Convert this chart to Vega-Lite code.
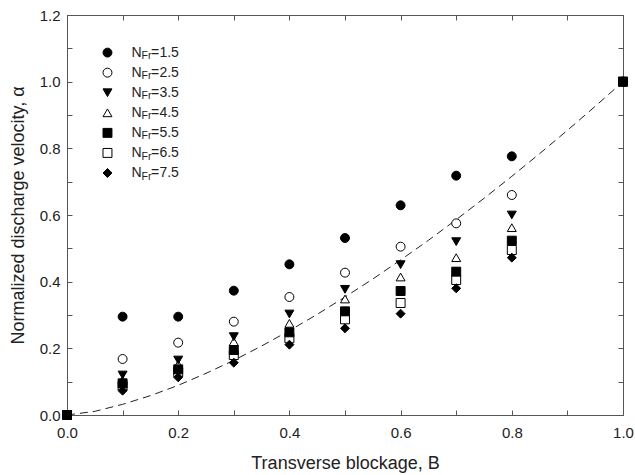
{
  "$schema": "https://vega.github.io/schema/vega-lite/v6.json",
  "width": 556,
  "height": 400,
  "autosize": {"type": "none"},
  "padding": {"left": 67, "top": 15, "right": 12, "bottom": 60},
  "background": "white",
  "config": {
    "view": {"stroke": "#555", "strokeWidth": 1},
    "font": "Liberation Sans",
    "axis": {
      "domainColor": "#555",
      "tickColor": "#555",
      "labelColor": "#222",
      "titleColor": "#222",
      "labelFontSize": 15,
      "titleFontSize": 18,
      "titleFontWeight": "normal",
      "grid": false,
      "labelFlush": false
    }
  },
  "datasets": {
    "points": [
      {"B": 0, "alpha": 0, "NFr": "1.5"},
      {"B": 0, "alpha": 0, "NFr": "2.5"},
      {"B": 0, "alpha": 0, "NFr": "3.5"},
      {"B": 0, "alpha": 0, "NFr": "4.5"},
      {"B": 0, "alpha": 0, "NFr": "5.5"},
      {"B": 0, "alpha": 0, "NFr": "6.5"},
      {"B": 0, "alpha": 0, "NFr": "7.5"},
      {"B": 0.1, "alpha": 0.295, "NFr": "1.5"},
      {"B": 0.1, "alpha": 0.168, "NFr": "2.5"},
      {"B": 0.1, "alpha": 0.12, "NFr": "3.5"},
      {"B": 0.1, "alpha": 0.105, "NFr": "4.5"},
      {"B": 0.1, "alpha": 0.095, "NFr": "5.5"},
      {"B": 0.1, "alpha": 0.088, "NFr": "6.5"},
      {"B": 0.1, "alpha": 0.073, "NFr": "7.5"},
      {"B": 0.2, "alpha": 0.295, "NFr": "1.5"},
      {"B": 0.2, "alpha": 0.217, "NFr": "2.5"},
      {"B": 0.2, "alpha": 0.165, "NFr": "3.5"},
      {"B": 0.2, "alpha": 0.152, "NFr": "4.5"},
      {"B": 0.2, "alpha": 0.137, "NFr": "5.5"},
      {"B": 0.2, "alpha": 0.128, "NFr": "6.5"},
      {"B": 0.2, "alpha": 0.113, "NFr": "7.5"},
      {"B": 0.3, "alpha": 0.373, "NFr": "1.5"},
      {"B": 0.3, "alpha": 0.28, "NFr": "2.5"},
      {"B": 0.3, "alpha": 0.235, "NFr": "3.5"},
      {"B": 0.3, "alpha": 0.22, "NFr": "4.5"},
      {"B": 0.3, "alpha": 0.195, "NFr": "5.5"},
      {"B": 0.3, "alpha": 0.18, "NFr": "6.5"},
      {"B": 0.3, "alpha": 0.157, "NFr": "7.5"},
      {"B": 0.4, "alpha": 0.452, "NFr": "1.5"},
      {"B": 0.4, "alpha": 0.354, "NFr": "2.5"},
      {"B": 0.4, "alpha": 0.303, "NFr": "3.5"},
      {"B": 0.4, "alpha": 0.275, "NFr": "4.5"},
      {"B": 0.4, "alpha": 0.248, "NFr": "5.5"},
      {"B": 0.4, "alpha": 0.23, "NFr": "6.5"},
      {"B": 0.4, "alpha": 0.211, "NFr": "7.5"},
      {"B": 0.5, "alpha": 0.531, "NFr": "1.5"},
      {"B": 0.5, "alpha": 0.427, "NFr": "2.5"},
      {"B": 0.5, "alpha": 0.377, "NFr": "3.5"},
      {"B": 0.5, "alpha": 0.348, "NFr": "4.5"},
      {"B": 0.5, "alpha": 0.311, "NFr": "5.5"},
      {"B": 0.5, "alpha": 0.287, "NFr": "6.5"},
      {"B": 0.5, "alpha": 0.26, "NFr": "7.5"},
      {"B": 0.6, "alpha": 0.629, "NFr": "1.5"},
      {"B": 0.6, "alpha": 0.505, "NFr": "2.5"},
      {"B": 0.6, "alpha": 0.451, "NFr": "3.5"},
      {"B": 0.6, "alpha": 0.414, "NFr": "4.5"},
      {"B": 0.6, "alpha": 0.372, "NFr": "5.5"},
      {"B": 0.6, "alpha": 0.336, "NFr": "6.5"},
      {"B": 0.6, "alpha": 0.304, "NFr": "7.5"},
      {"B": 0.7, "alpha": 0.718, "NFr": "1.5"},
      {"B": 0.7, "alpha": 0.575, "NFr": "2.5"},
      {"B": 0.7, "alpha": 0.52, "NFr": "3.5"},
      {"B": 0.7, "alpha": 0.472, "NFr": "4.5"},
      {"B": 0.7, "alpha": 0.43, "NFr": "5.5"},
      {"B": 0.7, "alpha": 0.405, "NFr": "6.5"},
      {"B": 0.7, "alpha": 0.38, "NFr": "7.5"},
      {"B": 0.8, "alpha": 0.776, "NFr": "1.5"},
      {"B": 0.8, "alpha": 0.66, "NFr": "2.5"},
      {"B": 0.8, "alpha": 0.6, "NFr": "3.5"},
      {"B": 0.8, "alpha": 0.562, "NFr": "4.5"},
      {"B": 0.8, "alpha": 0.523, "NFr": "5.5"},
      {"B": 0.8, "alpha": 0.495, "NFr": "6.5"},
      {"B": 0.8, "alpha": 0.472, "NFr": "7.5"},
      {"B": 1.0, "alpha": 1.0, "NFr": "1.5"},
      {"B": 1.0, "alpha": 1.0, "NFr": "2.5"},
      {"B": 1.0, "alpha": 1.0, "NFr": "3.5"},
      {"B": 1.0, "alpha": 1.0, "NFr": "4.5"},
      {"B": 1.0, "alpha": 1.0, "NFr": "5.5"},
      {"B": 1.0, "alpha": 1.0, "NFr": "6.5"},
      {"B": 1.0, "alpha": 1.0, "NFr": "7.5"}
    ],
    "curve": [
      {"B": 0, "alpha": 0},
      {"B": 0.05, "alpha": 0.011},
      {"B": 0.1, "alpha": 0.032},
      {"B": 0.15, "alpha": 0.058},
      {"B": 0.2, "alpha": 0.089},
      {"B": 0.25, "alpha": 0.125},
      {"B": 0.3, "alpha": 0.164},
      {"B": 0.35, "alpha": 0.207},
      {"B": 0.4, "alpha": 0.253},
      {"B": 0.45, "alpha": 0.302},
      {"B": 0.5, "alpha": 0.354},
      {"B": 0.55, "alpha": 0.408},
      {"B": 0.6, "alpha": 0.465},
      {"B": 0.65, "alpha": 0.524},
      {"B": 0.7, "alpha": 0.586},
      {"B": 0.75, "alpha": 0.65},
      {"B": 0.8, "alpha": 0.716},
      {"B": 0.85, "alpha": 0.784},
      {"B": 0.9, "alpha": 0.854},
      {"B": 0.95, "alpha": 0.926},
      {"B": 1.0, "alpha": 1.0}
    ]
  },
  "layer": [
    {
      "data": {"name": "curve"},
      "mark": {"type": "line", "opacity": 0},
      "encoding": {
        "x": {
          "field": "B", "type": "quantitative",
          "scale": {"domain": [0, 1], "nice": false, "zero": false},
          "axis": {"orient": "bottom", "values": [0, 0.1, 0.2, 0.3, 0.4, 0.5, 0.6, 0.7, 0.8, 0.9, 1.0], "labels": false, "tickSize": 5, "offset": -5, "domain": false, "title": null}
        },
        "y": {
          "field": "alpha", "type": "quantitative",
          "scale": {"domain": [0, 1.2], "nice": false, "zero": false},
          "axis": {"orient": "left", "values": [0, 0.1, 0.2, 0.3, 0.4, 0.5, 0.6, 0.7, 0.8, 0.9, 1.0, 1.1, 1.2], "labels": false, "tickSize": 5, "offset": -5, "domain": false, "title": null}
        }
      }
    },
    {
      "data": {"name": "curve"},
      "mark": {"type": "line", "strokeDash": [8, 5], "color": "#222", "strokeWidth": 1},
      "encoding": {
        "x": {
          "field": "B", "type": "quantitative",
          "axis": {"orient": "top", "values": [0, 0.1, 0.2, 0.3, 0.4, 0.5, 0.6, 0.7, 0.8, 0.9, 1.0], "labels": false, "tickSize": 5, "offset": -5, "domain": false, "title": null}
        },
        "y": {
          "field": "alpha", "type": "quantitative",
          "scale": {"domain": [0, 1.2], "nice": false, "zero": false},
          "axis": {"orient": "right", "values": [0, 0.1, 0.2, 0.3, 0.4, 0.5, 0.6, 0.7, 0.8, 0.9, 1.0, 1.1, 1.2], "labels": false, "tickSize": 5, "offset": -5, "domain": false, "title": null}
        }
      }
    },
    {
      "data": {"name": "points"},
      "encoding": {
        "x": {
          "field": "B", "type": "quantitative",
          "axis": {
            "orient": "bottom",
            "values": [0, 0.2, 0.4, 0.6, 0.8, 1.0],
            "format": ".1f",
            "ticks": false,
            "domain": true,
            "labelPadding": 10,
            "title": "Transverse blockage, B",
            "titlePadding": 14
          }
        },
        "y": {
          "field": "alpha", "type": "quantitative",
          "scale": {"domain": [0, 1.2], "nice": false, "zero": false},
          "axis": {
            "orient": "left",
            "values": [0, 0.2, 0.4, 0.6, 0.8, 1.0, 1.2],
            "format": ".1f",
            "ticks": false,
            "domain": true,
            "labelPadding": 7,
            "title": "Normalized discharge velocity, α",
            "titlePadding": 12
          }
        }
      },
      "layer": [
        {"transform": [{"filter": "datum.NFr == '2.5'"}], "mark": {"type": "point", "shape": "circle", "filled": true, "fill": "white", "stroke": "black", "strokeWidth": 1, "size": 80, "opacity": 1}},
        {"transform": [{"filter": "datum.NFr == '4.5'"}], "mark": {"type": "point", "shape": "triangle-up", "filled": true, "fill": "white", "stroke": "black", "strokeWidth": 1, "size": 80, "opacity": 1}},
        {"transform": [{"filter": "datum.NFr == '6.5'"}], "mark": {"type": "point", "shape": "square", "filled": true, "fill": "white", "stroke": "black", "strokeWidth": 1, "size": 80, "opacity": 1}},
        {"transform": [{"filter": "datum.NFr == '1.5'"}], "mark": {"type": "point", "shape": "circle", "filled": true, "fill": "black", "stroke": "black", "strokeWidth": 1, "size": 80, "opacity": 1}},
        {"transform": [{"filter": "datum.NFr == '3.5'"}], "mark": {"type": "point", "shape": "triangle-down", "filled": true, "fill": "black", "stroke": "black", "strokeWidth": 1, "size": 80, "opacity": 1}},
        {"transform": [{"filter": "datum.NFr == '5.5'"}], "mark": {"type": "point", "shape": "square", "filled": true, "fill": "black", "stroke": "black", "strokeWidth": 1, "size": 80, "opacity": 1}},
        {"transform": [{"filter": "datum.NFr == '7.5'"}], "mark": {"type": "point", "shape": "diamond", "filled": true, "fill": "black", "stroke": "black", "strokeWidth": 1, "size": 80, "opacity": 1}}
      ]
    },
    {
      "data": {"name": "points"},
      "transform": [{"filter": "datum.B == 1"}],
      "encoding": {
        "y": {
          "field": "NFr", "type": "nominal",
          "scale": {"type": "point", "domain": ["1.5", "2.5", "3.5", "4.5", "5.5", "6.5", "7.5"], "range": [37.6, 158], "padding": 0},
          "axis": null
        },
        "x": {"datum": 0.0728, "type": "quantitative", "axis": null}
      },
      "layer": [
        {"transform": [{"filter": "datum.NFr == '1.5'"}], "mark": {"type": "point", "shape": "circle", "filled": true, "fill": "black", "stroke": "black", "strokeWidth": 1, "size": 80, "opacity": 1}},
        {"transform": [{"filter": "datum.NFr == '2.5'"}], "mark": {"type": "point", "shape": "circle", "filled": true, "fill": "white", "stroke": "black", "strokeWidth": 1, "size": 80, "opacity": 1}},
        {"transform": [{"filter": "datum.NFr == '3.5'"}], "mark": {"type": "point", "shape": "triangle-down", "filled": true, "fill": "black", "stroke": "black", "strokeWidth": 1, "size": 80, "opacity": 1}},
        {"transform": [{"filter": "datum.NFr == '4.5'"}], "mark": {"type": "point", "shape": "triangle-up", "filled": true, "fill": "white", "stroke": "black", "strokeWidth": 1, "size": 80, "opacity": 1}},
        {"transform": [{"filter": "datum.NFr == '5.5'"}], "mark": {"type": "point", "shape": "square", "filled": true, "fill": "black", "stroke": "black", "strokeWidth": 1, "size": 80, "opacity": 1}},
        {"transform": [{"filter": "datum.NFr == '6.5'"}], "mark": {"type": "point", "shape": "square", "filled": true, "fill": "white", "stroke": "black", "strokeWidth": 1, "size": 80, "opacity": 1}},
        {"transform": [{"filter": "datum.NFr == '7.5'"}], "mark": {"type": "point", "shape": "diamond", "filled": true, "fill": "black", "stroke": "black", "strokeWidth": 1, "size": 80, "opacity": 1}},
        {
          "mark": {"type": "text", "text": "N", "align": "left", "baseline": "middle", "fontSize": 14, "color": "#222"},
          "encoding": {"x": {"datum": 0.116, "type": "quantitative", "axis": null}}
        },
        {
          "mark": {"type": "text", "text": "Fr", "align": "left", "baseline": "middle", "fontSize": 10.5, "dy": 3.6, "color": "#222"},
          "encoding": {"x": {"datum": 0.1342, "type": "quantitative", "axis": null}}
        },
        {
          "mark": {"type": "text", "text": "=", "align": "left", "baseline": "middle", "fontSize": 14, "color": "#222"},
          "encoding": {"x": {"datum": 0.1512, "type": "quantitative", "axis": null}}
        },
        {
          "mark": {"type": "text", "align": "left", "baseline": "middle", "fontSize": 14, "color": "#222"},
          "encoding": {
            "x": {"datum": 0.1662, "type": "quantitative", "axis": null},
            "text": {"field": "NFr", "type": "nominal"}
          }
        }
      ]
    }
  ],
  "resolve": {"scale": {"y": "independent"}, "axis": {"x": "independent", "y": "independent"}}
}
